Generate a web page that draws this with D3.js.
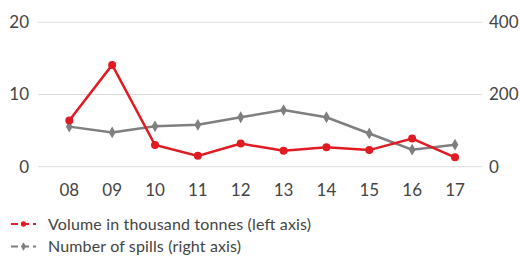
<!DOCTYPE html>
<html>
<head>
<meta charset="utf-8">
<script src="https://cdn.jsdelivr.net/npm/d3@7"></script>
<style>
  body { margin: 0; background: #fff; }
  text { font-family: Lato, "Open Sans", sans-serif; fill: #444; }
</style>
</head>
<body>
<div id="chart"></div>
<script>
var years = ["08", "09", "10", "11", "12", "13", "14", "15", "16", "17"];
var volume = [6.4, 14.1, 3.0, 1.5, 3.2, 2.2, 2.7, 2.3, 3.9, 1.3];
var spills = [111, 95, 112, 116, 137, 157, 137, 92, 47, 61];
var leftTicks = [0, 10, 20];
var rightTicks = [0, 200, 400];

var width = 520, height = 256;

var svg = d3.select("#chart")
  .append("svg")
  .attr("width", width)
  .attr("height", height);

var x = d3.scalePoint()
  .domain(years)
  .range([69.3, 455]);

var yLeft = d3.scaleLinear().domain([0, 20]).range([166.7, 22.3]);
var yRight = d3.scaleLinear().domain([0, 400]).range([166.7, 22.3]);

// gridlines
svg.append("g")
  .selectAll("line")
  .data(leftTicks)
  .enter().append("line")
    .attr("x1", 38)
    .attr("x2", 482)
    .attr("y1", function(d) { return yLeft(d); })
    .attr("y2", function(d) { return yLeft(d); })
    .attr("stroke", "#dcdcdc")
    .attr("stroke-width", 1);

// left axis labels
svg.append("g")
  .selectAll("text")
  .data(leftTicks)
  .enter().append("text")
    .attr("x", 29)
    .attr("y", function(d) { return yLeft(d); })
    .attr("dy", "0.35em")
    .attr("text-anchor", "end")
    .style("font-size", "17px")
    .text(function(d) { return d; });

// right axis labels
svg.append("g")
  .selectAll("text")
  .data(rightTicks)
  .enter().append("text")
    .attr("x", 489)
    .attr("y", function(d) { return yRight(d); })
    .attr("dy", "0.35em")
    .style("font-size", "17px")
    .text(function(d) { return d; });

// x labels
svg.append("g")
  .selectAll("text")
  .data(years)
  .enter().append("text")
    .attr("x", function(d) { return x(d); })
    .attr("y", 190)
    .attr("dy", "0.35em")
    .attr("text-anchor", "middle")
    .style("font-size", "17px")
    .text(function(d) { return d; });

var grey = "#7f7f7f", red = "#e01b22";

// spills (right axis)
var spillLine = d3.line()
  .x(function(d, i) { return x(years[i]); })
  .y(function(d) { return yRight(d); });

svg.append("path")
  .datum(spills)
  .attr("d", spillLine)
  .attr("fill", "none")
  .attr("stroke", grey)
  .attr("stroke-width", 2.5);

svg.append("g")
  .selectAll("path")
  .data(spills)
  .enter().append("path")
    .attr("d", d3.symbol().type(d3.symbolDiamond).size(40))
    .attr("transform", function(d, i) {
      return "translate(" + x(years[i]) + "," + yRight(d) + ")";
    })
    .attr("fill", grey);

// volume (left axis)
var volLine = d3.line()
  .x(function(d, i) { return x(years[i]); })
  .y(function(d) { return yLeft(d); });

svg.append("path")
  .datum(volume)
  .attr("d", volLine)
  .attr("fill", "none")
  .attr("stroke", red)
  .attr("stroke-width", 2.5);

svg.append("g")
  .selectAll("circle")
  .data(volume)
  .enter().append("circle")
    .attr("cx", function(d, i) { return x(years[i]); })
    .attr("cy", function(d) { return yLeft(d); })
    .attr("r", 4)
    .attr("fill", red);

// legend
var legendItems = [
  {label: "Volume in thousand tonnes (left axis)", color: red, y: 224, shape: "circle"},
  {label: "Number of spills (right axis)", color: grey, y: 246.5, shape: "diamond"}
];

var legend = svg.append("g")
  .selectAll("g")
  .data(legendItems)
  .enter().append("g")
    .attr("transform", function(d) { return "translate(0," + d.y + ")"; });

legend.append("line")
  .attr("x1", 11).attr("x2", 36)
  .attr("y1", 0).attr("y2", 0)
  .attr("stroke", function(d) { return d.color; })
  .attr("stroke-width", 2)
  .attr("stroke-dasharray", "7,4");

legend.append("path")
  .attr("d", function(d) {
    return d3.symbol().type(d.shape == "circle" ? d3.symbolCircle : d3.symbolDiamond).size(22)();
  })
  .attr("transform", "translate(23.5,0)")
  .attr("fill", function(d) { return d.color; });

var legendText = legend.append("text")
  .attr("x", 48)
  .attr("dy", "0.35em")
  .style("font-size", "16px")
  .text(function(d) { return d.label; });

// stretch legend text to the width it takes in the original (first label ~263px)
var w0 = legendText.node().getComputedTextLength();
var k = 263 / w0;
legendText.each(function() {
  var w = this.getComputedTextLength();
  d3.select(this).attr("textLength", w * k).attr("lengthAdjust", "spacing");
});
</script>
</body>
</html>
